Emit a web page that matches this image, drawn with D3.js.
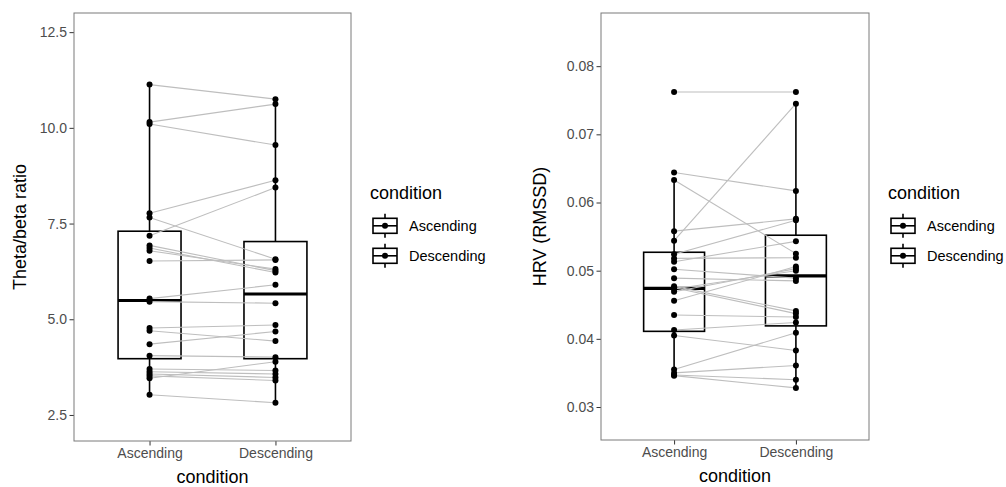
<!DOCTYPE html>
<html>
<head>
<meta charset="utf-8">
<script src="https://cdn.jsdelivr.net/npm/d3@7"></script>
<style>
  body { margin: 0; background: #fff; }
  svg { display: block; font-family: "Liberation Sans", Arial, sans-serif; }
  .tick text { fill: #4D4D4D; }
</style>
</head>
<body>
<svg id="chart" width="1006" height="487"></svg>
<script>
// categories
var conditions = ["Ascending", "Descending"];

// theta/beta ratio, one value per subject (paired by index)
var thetaAsc  = [11.13, 10.15, 10.10, 7.77, 7.66, 7.18, 6.93, 6.86, 6.79, 6.52, 5.54,
                 5.46, 4.77, 4.70, 4.35, 4.05, 3.70, 3.63, 3.57, 3.52, 3.46, 3.03];
var thetaDesc = [10.75, 10.62, 9.55, 8.63, 6.57, 8.44, 6.27, 6.22, 6.31, 6.55, 5.90,
                 5.42, 4.85, 4.43, 4.68, 4.01, 3.66, 3.57, 3.48, 3.40, 3.89, 2.82];
// box stats: [lower whisker, q1, median, q3, upper whisker]
var thetaBoxAsc  = [3.03, 3.97, 5.49, 7.30, 11.13];
var thetaBoxDesc = [2.82, 3.97, 5.66, 7.03, 10.75];
var thetaTicks = [2.5, 5.0, 7.5, 10.0, 12.5];
var thetaDomain = [1.82, 13.0];

// HRV (RMSSD)
var hrvAsc  = [0.0762, 0.0644, 0.0633, 0.0558, 0.0544, 0.0524, 0.0518, 0.0513, 0.0502, 0.0489, 0.0477,
               0.0475, 0.0473, 0.0469, 0.0456, 0.0435, 0.0413, 0.0405, 0.0355, 0.0350, 0.0347, 0.0346];
var hrvDesc = [0.0762, 0.0617, 0.0525, 0.0576, 0.0745, 0.0574, 0.0519, 0.0543, 0.0489, 0.0485, 0.0441,
               0.0437, 0.0500, 0.0503, 0.0506, 0.0432, 0.0424, 0.0383, 0.0409, 0.0361, 0.0340, 0.0328];
var hrvBoxAsc  = [0.0346, 0.0411, 0.0474, 0.0527, 0.0633];
var hrvBoxDesc = [0.0328, 0.0419, 0.04925, 0.0552, 0.0745];
var hrvTicks = [0.03, 0.04, 0.05, 0.06, 0.07, 0.08];
var hrvDomain = [0.02516, 0.0878];

var svg = d3.select("#chart");

function drawPanel(opt) {
    var g = svg.append("g").attr("transform", "translate(" + opt.left + "," + opt.top + ")");
    var w = opt.width, h = opt.height;

    var x = d3.scalePoint().domain(conditions).range([0, w]).padding(0.6);
    var y = d3.scaleLinear().domain(opt.domain).range([h, 0]);
    var boxW = x.step() * 0.5;

    // axes
    var yAxis = d3.axisLeft(y).tickValues(opt.ticks).tickSize(4.5).tickPadding(2.5).tickFormat(opt.fmt);
    var yg = g.append("g").call(yAxis);
    var xg = g.append("g").attr("transform", "translate(0," + h + ")")
        .call(d3.axisBottom(x).tickSize(4.5).tickPadding(3));
    [yg, xg].forEach(function(a) {
        a.select(".domain").remove();
        a.selectAll(".tick line").attr("stroke", "#333").attr("stroke-width", 1);
        a.selectAll(".tick text").style("font-size", "14px");
    });

    // boxplots
    var boxes = [{c: conditions[0], s: opt.boxA}, {c: conditions[1], s: opt.boxD}];
    boxes.forEach(function(b) {
        var cx = x(b.c), s = b.s;
        g.append("line").attr("x1", cx).attr("x2", cx).attr("y1", y(s[0])).attr("y2", y(s[1]))
            .attr("stroke", "#000").attr("stroke-width", 1.6);
        g.append("line").attr("x1", cx).attr("x2", cx).attr("y1", y(s[3])).attr("y2", y(s[4]))
            .attr("stroke", "#000").attr("stroke-width", 1.6);
        g.append("rect").attr("x", cx - boxW / 2).attr("width", boxW)
            .attr("y", y(s[3])).attr("height", y(s[1]) - y(s[3]))
            .attr("fill", "#fff").attr("stroke", "#000").attr("stroke-width", 1.6);
        g.append("line").attr("x1", cx - boxW / 2).attr("x2", cx + boxW / 2)
            .attr("y1", y(s[2])).attr("y2", y(s[2]))
            .attr("stroke", "#000").attr("stroke-width", 3.2);
    });

    // paired lines
    var pairs = opt.a.map(function(v, i) { return [v, opt.d[i]]; });
    g.selectAll(".pair").data(pairs).enter().append("line")
        .attr("x1", x(conditions[0])).attr("x2", x(conditions[1]))
        .attr("y1", function(d) { return y(d[0]); })
        .attr("y2", function(d) { return y(d[1]); })
        .attr("stroke", "#BEBEBE").attr("stroke-width", 1.1);

    // points
    var pts = opt.a.map(function(v) { return {c: conditions[0], v: v}; })
        .concat(opt.d.map(function(v) { return {c: conditions[1], v: v}; }));
    g.selectAll(".pt").data(pts).enter().append("circle")
        .attr("cx", function(d) { return x(d.c); })
        .attr("cy", function(d) { return y(d.v); })
        .attr("r", 3).attr("fill", "#000");

    // border
    g.append("rect").attr("width", w).attr("height", h)
        .attr("fill", "none").attr("stroke", "#7a7a7a").attr("stroke-width", 1);

    // titles
    g.append("text").attr("x", w / 2).attr("y", h + 42).attr("text-anchor", "middle")
        .style("font-size", "18px").text("condition");
    g.append("text").attr("transform", "translate(" + opt.yTitleX + "," + (h / 2) + ") rotate(-90)")
        .attr("text-anchor", "middle").attr("dy", "0.35em")
        .style("font-size", "18px").text(opt.yTitle);

    // legend
    var lg = svg.append("g").attr("transform", "translate(" + opt.legX + ",193)");
    lg.append("text").attr("x", 0).attr("y", 0).attr("dy", "0.35em")
        .style("font-size", "18px").text("condition");
    conditions.forEach(function(c, i) {
        var k = lg.append("g").attr("transform", "translate(0," + (17.8 + i * 30) + ")");
        k.append("line").attr("x1", 15).attr("x2", 15).attr("y1", 3).attr("y2", 27)
            .attr("stroke", "#000").attr("stroke-width", 1.6);
        k.append("rect").attr("x", 3).attr("y", 7.5).attr("width", 24).attr("height", 15)
            .attr("fill", "#fff").attr("stroke", "#000").attr("stroke-width", 1.6);
        k.append("line").attr("x1", 3).attr("x2", 27).attr("y1", 15).attr("y2", 15)
            .attr("stroke", "#000").attr("stroke-width", 1.6);
        k.append("circle").attr("cx", 15).attr("cy", 15).attr("r", 3).attr("fill", "#000");
        k.append("text").attr("x", 39).attr("y", 15).attr("dy", "0.35em")
            .style("font-size", "14.5px").text(c);
    });
}

drawPanel({
    left: 74, top: 13, width: 277, height: 428,
    domain: thetaDomain, ticks: thetaTicks, fmt: d3.format(".1f"),
    a: thetaAsc, d: thetaDesc, boxA: thetaBoxAsc, boxD: thetaBoxDesc,
    yTitle: "Theta/beta ratio", yTitleX: -54, legX: 370
});
drawPanel({
    left: 601, top: 13, width: 268, height: 427,
    domain: hrvDomain, ticks: hrvTicks, fmt: d3.format(".2f"),
    a: hrvAsc, d: hrvDesc, boxA: hrvBoxAsc, boxD: hrvBoxDesc,
    yTitle: "HRV (RMSSD)", yTitleX: -61, legX: 888
});
</script>
</body>
</html>
